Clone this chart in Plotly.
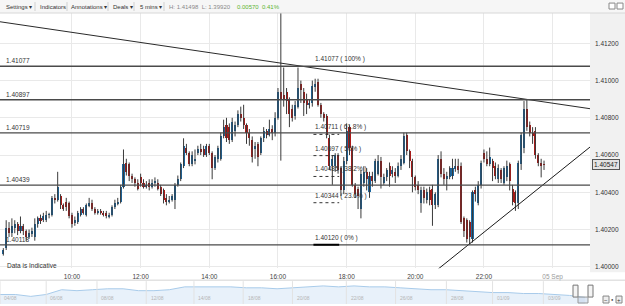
import pandas as pd
import plotly.graph_objects as go

# ---------------- data (5-minute candles, 04 Sep 08:00 -> 23:45) ----------------
opens = [
    1.4007, 1.4010, 1.4021, 1.4018, 1.4021, 1.4023, 1.4019, 1.4022, 1.4019, 1.4016, 1.4018, 1.4016,
    1.4023, 1.4026, 1.4025, 1.4025, 1.4028, 1.4028, 1.4037, 1.4036, 1.4038, 1.4033, 1.4035, 1.4034,
    1.4028, 1.4024, 1.4024, 1.4028, 1.4031, 1.4028, 1.4033, 1.4034, 1.4031, 1.4029, 1.4030, 1.4029,
    1.4029, 1.4027, 1.4028, 1.4032, 1.4034, 1.4035, 1.4043, 1.4056, 1.4055, 1.4049, 1.4047, 1.4045,
    1.4048, 1.4045, 1.4043, 1.4045, 1.4043, 1.4045, 1.4045, 1.4043, 1.4041, 1.4037, 1.4035, 1.4036,
    1.4036, 1.4044, 1.4047, 1.4054, 1.4064, 1.4061, 1.4055, 1.4057, 1.4061, 1.4063, 1.4063, 1.4060,
    1.4065, 1.4061, 1.4053, 1.4058, 1.4058, 1.4070, 1.4076, 1.4075, 1.4068, 1.4073, 1.4076, 1.4082,
    1.4080, 1.4076, 1.4072, 1.4068, 1.4063, 1.4066, 1.4061, 1.4069, 1.4073, 1.4071, 1.4074, 1.4072,
    1.4080, 1.4094, 1.4092, 1.4094, 1.4090, 1.4085, 1.4081, 1.4086, 1.4098, 1.4094, 1.4090, 1.4087,
    1.4088, 1.4097, 1.4099, 1.4087, 1.4082, 1.4081, 1.4069, 1.4054, 1.4054, 1.4060, 1.4053, 1.4041,
    1.4057, 1.4075, 1.4064, 1.4044, 1.4042, 1.4031, 1.4045, 1.4051, 1.4040, 1.4049, 1.4046, 1.4050,
    1.4057, 1.4045, 1.4048, 1.4054, 1.4050, 1.4051, 1.4049, 1.4054, 1.4056, 1.4071, 1.4062, 1.4057,
    1.4048, 1.4044, 1.4034, 1.4041, 1.4036, 1.4041, 1.4042, 1.4033, 1.4033, 1.4058, 1.4050, 1.4047,
    1.4048, 1.4049, 1.4053, 1.4054, 1.4054, 1.4026, 1.4025, 1.4024, 1.4015, 1.4041, 1.4034, 1.4044,
    1.4061, 1.4058, 1.4055, 1.4057, 1.4054, 1.4047, 1.4052, 1.4045, 1.4048, 1.4055, 1.4042, 1.4040,
    1.4034, 1.4055, 1.4064, 1.4085, 1.4076, 1.4072, 1.4073, 1.4060, 1.4056, 1.40550,
]
highs = [
    1.4010, 1.4025, 1.4024, 1.4026, 1.4025, 1.4024, 1.4027, 1.4023, 1.4020, 1.4020, 1.4021, 1.4026,
    1.4027, 1.4028, 1.4029, 1.4030, 1.4029, 1.4038, 1.4039, 1.4051, 1.4039, 1.4034, 1.4037, 1.4035,
    1.4029, 1.4027, 1.4030, 1.4032, 1.4032, 1.4034, 1.4037, 1.4036, 1.4032, 1.4031, 1.4031, 1.4030,
    1.4030, 1.4029, 1.4033, 1.4036, 1.4037, 1.4044, 1.4063, 1.4058, 1.4056, 1.4050, 1.4048, 1.4047,
    1.4050, 1.4047, 1.4046, 1.4047, 1.4047, 1.4048, 1.4047, 1.4044, 1.4042, 1.4039, 1.4038, 1.4039,
    1.4045, 1.4049, 1.4056, 1.4069, 1.4066, 1.4062, 1.4062, 1.4063, 1.4065, 1.4066, 1.4065, 1.4066,
    1.4066, 1.4062, 1.4060, 1.4065, 1.4072, 1.4079, 1.4080, 1.4077, 1.4080, 1.4078, 1.4084, 1.4086,
    1.4087, 1.4077, 1.4074, 1.4070, 1.4067, 1.4067, 1.4070, 1.4075, 1.4074, 1.4079, 1.4076, 1.4083,
    1.4096, 1.41498, 1.4107, 1.4096, 1.4091, 1.4087, 1.4089, 1.4107, 1.4100, 1.4096, 1.4093, 1.4090,
    1.4100, 1.4101, 1.4101, 1.4088, 1.4083, 1.4082, 1.4071, 1.4060, 1.4061, 1.4061, 1.4054, 1.4059,
    1.4077, 1.4076, 1.4065, 1.4045, 1.4043, 1.4052, 1.4054, 1.4053, 1.4051, 1.4051, 1.4058, 1.4060,
    1.4059, 1.4050, 1.4053, 1.4056, 1.4054, 1.4053, 1.4056, 1.4060, 1.4072, 1.4072, 1.4063, 1.4058,
    1.4049, 1.4046, 1.4043, 1.4043, 1.4042, 1.4043, 1.4044, 1.4040, 1.4060, 1.4062, 1.4053, 1.4051,
    1.4054, 1.4058, 1.4058, 1.4058, 1.4056, 1.4027, 1.4026, 1.4025, 1.4041, 1.4043, 1.4046, 1.4057,
    1.4063, 1.4062, 1.4064, 1.4058, 1.4056, 1.4055, 1.4053, 1.4054, 1.4057, 1.4056, 1.4044, 1.4041,
    1.4057, 1.4072, 1.4089, 1.4090, 1.4078, 1.4075, 1.4075, 1.4061, 1.4058, 1.4057,
]
lows = [
    1.4006, 1.4009, 1.4016, 1.4016, 1.4018, 1.4017, 1.4018, 1.4017, 1.4014, 1.4015, 1.4016, 1.4014,
    1.4021, 1.4023, 1.4024, 1.4024, 1.4026, 1.4027, 1.4034, 1.4035, 1.4031, 1.4030, 1.4030, 1.4026,
    1.4021, 1.4022, 1.4023, 1.4027, 1.4028, 1.4027, 1.4032, 1.4030, 1.4028, 1.4028, 1.4028, 1.4027,
    1.4026, 1.4026, 1.4027, 1.4031, 1.4033, 1.4034, 1.4042, 1.4049, 1.4046, 1.4045, 1.4043, 1.4041,
    1.4043, 1.4042, 1.4042, 1.4041, 1.4042, 1.4043, 1.4041, 1.4038, 1.4034, 1.4033, 1.4034, 1.4035,
    1.4031, 1.4043, 1.4046, 1.4053, 1.4060, 1.4054, 1.4054, 1.4055, 1.4060, 1.4060, 1.4059, 1.4059,
    1.4060, 1.4047, 1.4052, 1.4056, 1.4057, 1.4069, 1.4067, 1.4066, 1.4067, 1.4070, 1.4075, 1.4078,
    1.4074, 1.4066, 1.4065, 1.4056, 1.4058, 1.4054, 1.4060, 1.4067, 1.4069, 1.4070, 1.4068, 1.4070,
    1.4079, 1.4057, 1.4086, 1.4082, 1.4075, 1.4078, 1.4079, 1.4085, 1.4088, 1.4081, 1.4082, 1.4085,
    1.4086, 1.4094, 1.4086, 1.4080, 1.4078, 1.4069, 1.4052, 1.4044, 1.4051, 1.4050, 1.4038, 1.4039,
    1.4055, 1.4060, 1.4043, 1.4037, 1.4031, 1.4026, 1.4043, 1.4041, 1.4037, 1.4043, 1.4045, 1.4049,
    1.4042, 1.4044, 1.4046, 1.4043, 1.4048, 1.4045, 1.4048, 1.4052, 1.4055, 1.4060, 1.4053, 1.4040,
    1.4041, 1.4039, 1.4029, 1.4034, 1.4034, 1.4033, 1.4022, 1.4031, 1.4032, 1.4048, 1.4044, 1.4041,
    1.4047, 1.4047, 1.4051, 1.4050, 1.4023, 1.4016, 1.4013, 1.4012, 1.4013, 1.4035, 1.4033, 1.4042,
    1.4056, 1.4054, 1.4054, 1.4046, 1.4047, 1.4045, 1.4045, 1.4044, 1.4046, 1.4041, 1.4033, 1.4030,
    1.4031, 1.4052, 1.4061, 1.4073, 1.4070, 1.4066, 1.4058, 1.4054, 1.4048, 1.4052,
]
closes = [
    1.4009, 1.4021, 1.4018, 1.4022, 1.4023, 1.4019, 1.4022, 1.4019, 1.4016, 1.4018, 1.4019, 1.4023,
    1.4026, 1.4025, 1.4027, 1.4028, 1.4028, 1.4037, 1.4036, 1.4043, 1.4033, 1.4031, 1.4032, 1.4027,
    1.4023, 1.4025, 1.4029, 1.4031, 1.4029, 1.4033, 1.4034, 1.4031, 1.4029, 1.4030, 1.4029, 1.4028,
    1.4027, 1.4028, 1.4032, 1.4034, 1.4035, 1.4043, 1.4055, 1.4051, 1.4049, 1.4047, 1.4045, 1.4042,
    1.4045, 1.4043, 1.4044, 1.4043, 1.4045, 1.4046, 1.4042, 1.4039, 1.4036, 1.4035, 1.4036, 1.4038,
    1.4044, 1.4047, 1.4055, 1.4065, 1.4061, 1.4055, 1.4060, 1.4058, 1.4063, 1.4062, 1.4060, 1.4065,
    1.4061, 1.4053, 1.4059, 1.4064, 1.4070, 1.4075, 1.4069, 1.4068, 1.4078, 1.4076, 1.4082, 1.4080,
    1.4076, 1.4072, 1.4069, 1.4059, 1.4065, 1.4059, 1.4069, 1.4073, 1.4071, 1.4074, 1.4072, 1.4080,
    1.4094, 1.4090, 1.4090, 1.4089, 1.4082, 1.4080, 1.4087, 1.4096, 1.4095, 1.4088, 1.4087, 1.4088,
    1.4097, 1.4098, 1.4087, 1.4082, 1.4080, 1.4071, 1.4054, 1.4058, 1.4060, 1.4052, 1.4041, 1.4057,
    1.4073, 1.4064, 1.4044, 1.4039, 1.4038, 1.4050, 1.4051, 1.4047, 1.4049, 1.4046, 1.4057, 1.4057,
    1.4048, 1.4048, 1.4052, 1.4049, 1.4052, 1.4049, 1.4054, 1.4058, 1.4070, 1.4062, 1.4057, 1.4048,
    1.4043, 1.4041, 1.4041, 1.4037, 1.4040, 1.4036, 1.4033, 1.4039, 1.4058, 1.4050, 1.4047, 1.4049,
    1.4053, 1.4053, 1.4054, 1.4052, 1.4024, 1.4019, 1.4015, 1.4016, 1.4040, 1.4039, 1.4044, 1.4056,
    1.4058, 1.4055, 1.4059, 1.4053, 1.4049, 1.4053, 1.4047, 1.4053, 1.4054, 1.4046, 1.4035, 1.4034,
    1.4056, 1.4071, 1.4085, 1.4075, 1.4072, 1.4070, 1.4060, 1.4056, 1.4054, 1.40547,
]
times = pd.date_range("2014-09-04 08:00", periods=len(closes), freq="5min")

level_values = [1.41077, 1.40897, 1.40719, 1.40439, 1.40118]
level_labels = ["1.41077", "1.40897", "1.40719", "1.40439", "1.40118"]

fib_values = [1.41077, 1.40711, 1.40597, 1.40485, 1.40344, 1.40118]
fib_labels = ["1.41077 ( 100% )", "1.40711 ( 61.8% )", "1.40597 ( 50% )",
              "1.40485 ( 38.2% )", "1.40344 ( 23.6% )", "1.40120 ( 0% )"]
fib_start, fib_end = "2014-09-04 17:02", "2014-09-04 17:47"

desc_trend_t = ["2014-09-04 07:54:12", "2014-09-05 01:05:20"]
desc_trend_p = [1.41316, 1.40849]
asc_trend_t = ["2014-09-04 20:39:40", "2014-09-05 01:05:20"]
asc_trend_p = [1.39987, 1.40643]

x_tick_vals = ["2014-09-04 10:00", "2014-09-04 12:00", "2014-09-04 14:00", "2014-09-04 16:00",
               "2014-09-04 18:00", "2014-09-04 20:00", "2014-09-04 22:00", "2014-09-05 00:00"]
x_tick_text = ["10:00", "12:00", "14:00", "16:00", "18:00", "20:00", "22:00",
               "<span style='color:#9a9a9a'>05 Sep</span>"]
x_range = ["2014-09-04 07:54:12", "2014-09-05 01:05:20"]
y_range = [1.39992, 1.41363]
last_price = 1.40547

nav_values = [10, 10, 8, 10, 15, 14, 15, 16, 16, 14, 14, 15, 18, 18, 18, 18, 17, 17, 16, 17,
              18, 19, 18, 19, 18, 18, 17, 16, 15, 15, 14, 13, 12, 12, 11, 11, 10, 9, 7]
nav_label_pos = [0.5, 3.5, 6.8, 10.0, 13.1, 16.3, 19.5, 23.0, 26.2, 29.5, 32.5, 35.8]
nav_labels = ["04/08", "06/08", "08/08", "12/08", "14/08", "18/08", "20/08", "22/08",
              "26/08", "28/08", "01/09", "03/09"]

# ---------------- figure ----------------
FONT = "Liberation Sans, Arial, sans-serif"
UP, DOWN = "#1b67a0", "#ad1a18"

fig = go.Figure()

# wicks
wx, wy = [], []
for t, h, l in zip(times, highs, lows):
    wx += [t, t, None]
    wy += [l, h, None]
fig.add_trace(go.Scatter(x=wx, y=wy, mode="lines", line=dict(color="#3a3a3a", width=1),
                         hoverinfo="skip", showlegend=False))
# bodies
bases = [min(o, c) for o, c in zip(opens, closes)]
heights = [max(abs(c - o), 0.000025) for o, c in zip(opens, closes)]
colors = [UP if c >= o else DOWN for o, c in zip(opens, closes)]
fig.add_trace(go.Bar(x=times, y=heights, base=bases, width=215000,
                     marker=dict(color=colors, line=dict(width=0)),
                     hoverinfo="skip", showlegend=False))

# trend lines
fig.add_trace(go.Scatter(x=desc_trend_t, y=desc_trend_p, mode="lines",
                         line=dict(color="#2a2a2a", width=1), showlegend=False, hoverinfo="skip"))
fig.add_trace(go.Scatter(x=asc_trend_t, y=asc_trend_p, mode="lines",
                         line=dict(color="#1a1a1a", width=1), showlegend=False, hoverinfo="skip"))

# navigator
fig.add_trace(go.Scatter(x=list(range(len(nav_values))), y=nav_values, mode="lines",
                         line=dict(color="#a8cbea", width=1), fill="tozeroy",
                         fillcolor="rgba(214,230,246,0.55)", xaxis="x2", yaxis="y2",
                         showlegend=False, hoverinfo="skip"))

shapes = []
annotations = []
H = 293.0  # plot height in px (t=13, b=0)
def py(px_y):
    return (306 - px_y) / H
def px(px_x):
    return px_x / 590.0

# toolbar background
shapes.append(dict(type="rect", xref="paper", yref="paper", x0=0, x1=px(625), y0=1, y1=py(0),
                   fillcolor="#f6f6f6", line=dict(width=0), layer="below"))
shapes.append(dict(type="line", xref="paper", yref="paper", x0=0, x1=px(625), y0=1, y1=1,
                   line=dict(color="#d8d8d8", width=1)))
for sx in [35, 67, 108, 134, 164]:
    shapes.append(dict(type="line", xref="paper", yref="paper", x0=px(sx), x1=px(sx),
                       y0=py(11), y1=py(2), line=dict(color="#d0d0d0", width=1)))
# right axis grey area
shapes.append(dict(type="rect", xref="paper", yref="paper", x0=1, x1=px(625), y0=py(274), y1=1,
                   fillcolor="#f1f1f1", line=dict(width=0), layer="below"))
# navigator top border
shapes.append(dict(type="line", xref="paper", yref="paper", x0=0, x1=px(625), y0=py(282), y1=py(282),
                   line=dict(color="#d4d4d4", width=1)))
# navigator separators
for p in nav_label_pos:
    shapes.append(dict(type="line", xref="x2", yref="paper", x0=p - 0.5, x1=p - 0.5,
                       y0=0, y1=py(283), line=dict(color="#e2e2e2", width=1)))
# navigator handles and zoom buttons
for hx in [573, 588]:
    shapes.append(dict(type="rect", xref="paper", yref="paper", x0=px(hx), x1=px(hx + 5),
                       y0=py(299), y1=py(287), fillcolor="#f4f4f4", line=dict(color="#777", width=1)))
shapes.append(dict(type="rect", xref="paper", yref="paper", x0=px(578), x1=px(588),
                   y0=py(305), y1=py(299), fillcolor="rgba(200,215,235,0.6)", line=dict(color="#999", width=1)))
for bx in [603, 616]:
    shapes.append(dict(type="rect", xref="paper", yref="paper", x0=px(bx), x1=px(bx + 6),
                       y0=py(305), y1=py(298), fillcolor="#eeeeee", line=dict(color="#888", width=1)))
# top-right icons
for bx in [609, 617]:
    shapes.append(dict(type="rect", xref="paper", yref="paper", x0=px(bx), x1=px(bx + 6),
                       y0=py(9), y1=py(3), fillcolor="#ffffff", line=dict(color="#888", width=1)))

# horizontal levels
for v, lab in zip(level_values, level_labels):
    shapes.append(dict(type="line", xref="paper", yref="y", x0=0, x1=1, y0=v, y1=v,
                       line=dict(color="#4a4a4a", width=1.3)))
    annotations.append(dict(xref="paper", yref="y", x=px(4), y=v, text=lab, showarrow=False,
                            xanchor="left", yanchor="bottom", font=dict(size=6.5, color="#333", family=FONT)))

# fibonacci
for i, (v, lab) in enumerate(zip(fib_values, fib_labels)):
    if 0 < i < len(fib_values) - 1:
        shapes.append(dict(type="line", xref="x", yref="y", x0=fib_start, x1=fib_end, y0=v, y1=v,
                           line=dict(color="#333", width=1, dash="dot")))
    elif i == len(fib_values) - 1:
        shapes.append(dict(type="line", xref="x", yref="y", x0=fib_start, x1=fib_end, y0=v, y1=v,
                           line=dict(color="#000", width=2)))
    annotations.append(dict(xref="x", yref="y", x=fib_start, y=v, text=lab, showarrow=False,
                            xanchor="left", yanchor="bottom", yshift=1,
                            font=dict(size=6.5, color="#333", family=FONT)))

# toolbar text
toolbar = [(4, "Settings ▾", "#333"), (38, "Indicators", "#333"), (69, "Annotations ▾", "#333"),
           (111, "Deals ▾", "#333"), (138, "5 mins ▾", "#333"),
           (167, "H: 1.41498  L: 1.39920", "#8a8a8a"), (235, "0.00570  0.41%", "#5cb531")]
for x0, txt, col in toolbar:
    annotations.append(dict(xref="paper", yref="paper", x=px(x0), y=py(6.5), text=txt, showarrow=False,
                            xanchor="left", yanchor="middle", font=dict(size=6, color=col, family=FONT)))

annotations.append(dict(xref="paper", yref="paper", x=px(5), y=py(267), text="Data is Indicative",
                        showarrow=False, xanchor="left", yanchor="middle",
                        font=dict(size=6.5, color="#333", family=FONT)))
annotations.append(dict(xref="paper", yref="y", x=px(592), y=last_price, text=f"{last_price:.5f}",
                        showarrow=False, xanchor="left", yanchor="middle", bgcolor="#e4e4e4",
                        bordercolor="#555", borderwidth=1, borderpad=1,
                        font=dict(size=6.5, color="#222", family=FONT)))
for p, lab in zip(nav_label_pos, nav_labels):
    annotations.append(dict(xref="x2", yref="paper", x=p - 0.35, y=py(300), text=lab, showarrow=False,
                            xanchor="left", yanchor="middle", font=dict(size=5, color="#b5b5b5", family=FONT)))
annotations.append(dict(xref="paper", yref="paper", x=px(606), y=py(301.5), text="−", showarrow=False,
                        xanchor="center", yanchor="middle", font=dict(size=6, color="#333", family=FONT)))
annotations.append(dict(xref="paper", yref="paper", x=px(619), y=py(301.5), text="+", showarrow=False,
                        xanchor="center", yanchor="middle", font=dict(size=6, color="#333", family=FONT)))
annotations.append(dict(xref="paper", yref="paper", x=px(612.5), y=py(301.5), text="●", showarrow=False,
                        xanchor="center", yanchor="middle", font=dict(size=4, color="#333", family=FONT)))

fig.update_layout(
    width=625, height=306,
    margin=dict(l=0, r=35, t=13, b=0),
    paper_bgcolor="white", plot_bgcolor="white",
    showlegend=False, hovermode=False, bargap=0,
    font=dict(family=FONT, size=7, color="#333"),
    xaxis=dict(type="date", range=x_range, domain=[0, 1], anchor="y",
               tickvals=x_tick_vals, ticktext=x_tick_text, tickfont=dict(size=6.5, color="#444"),
               showgrid=True, gridcolor="#e9e9e9", gridwidth=1, zeroline=False, showline=False,
               ticks="", ticklabelstandoff=3, fixedrange=True, rangeslider=dict(visible=False)),
    yaxis=dict(domain=[py(270), 1], range=y_range, side="right", anchor="x",
               tick0=1.400, dtick=0.002, tickformat=".5f", tickfont=dict(size=6.5, color="#333"),
               showgrid=True, gridcolor="#e9e9e9", gridwidth=1, zeroline=False, showline=False,
               ticks="", ticklabelstandoff=4),
    xaxis2=dict(domain=[0, 1], range=[0, len(nav_values) - 0.67], anchor="y2",
                showgrid=False, showticklabels=False, zeroline=False, ticks=""),
    yaxis2=dict(domain=[0, py(283)], range=[0, 24], anchor="x2",
                showgrid=False, showticklabels=False, zeroline=False, ticks=""),
    shapes=shapes, annotations=annotations,
)

fig.write_html("out.html")
